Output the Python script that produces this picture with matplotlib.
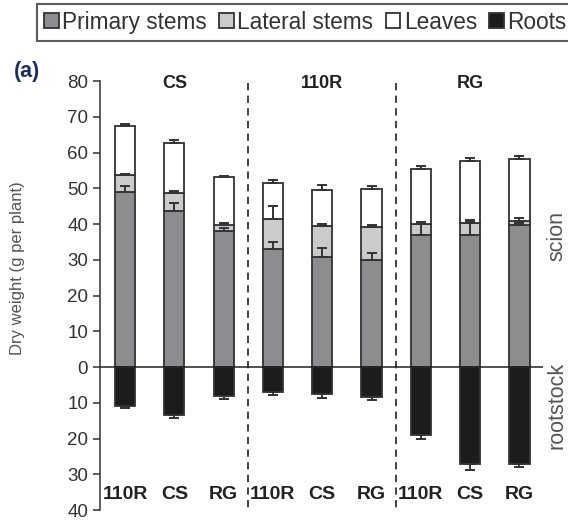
import numpy as np
import matplotlib.pyplot as plt
from matplotlib.patches import Patch

plt.rcParams['font.family'] = ['Liberation Sans', 'DejaVu Sans']

#Data (scion groups CS, 110R, RG; each on rootstocks 110R, CS, RG)
scion_groups = ["CS", "110R", "RG"]
rootstocks = ["110R", "CS", "RG", "110R", "CS", "RG", "110R", "CS", "RG"]

primary = [49.0, 43.7, 38.0, 33.0, 30.7, 29.9, 36.8, 36.8, 39.6]
primary_err = [1.7, 2.2, 0.9, 1.9, 2.6, 2.0, 3.1, 3.7, 0.6]
lateral = [4.6, 5.1, 1.8, 8.5, 8.7, 9.2, 3.3, 3.5, 1.2]
lateral_err = [0.4, 0.4, 0.4, 3.6, 0.6, 0.5, 0.5, 0.7, 0.9]
leaves = [13.9, 14.0, 13.3, 9.9, 10.2, 10.7, 15.2, 17.2, 17.3]
leaves_err = [0.6, 0.7, 0.4, 0.8, 1.2, 0.7, 0.8, 1.1, 0.8]
roots = [10.9, 13.4, 8.0, 7.1, 7.5, 8.3, 19.1, 27.2, 27.2]
roots_err = [0.6, 0.8, 0.9, 0.6, 1.2, 0.8, 1.0, 1.5, 0.7]

c_primary = "#8d8d8f"
c_lateral = "#cbcbcb"
c_leaves = "#ffffff"
c_roots = "#1c1c1c"
edge = "#333333"

x = np.arange(len(primary))
primary = np.array(primary)
lateral = np.array(lateral)
leaves = np.array(leaves)
roots = np.array(roots)
w = 0.41

fig = plt.figure(figsize=(5.68, 5.2), dpi=100)
ax = fig.add_axes([0.1761, 0.0192, 0.78, 0.825])

bar_kw = dict(width=w, edgecolor=edge, linewidth=1.3, zorder=3)
ax.bar(x, primary, color=c_primary, **bar_kw)
ax.bar(x, lateral, bottom=primary, color=c_lateral, **bar_kw)
ax.bar(x, leaves, bottom=primary + lateral, color=c_leaves, **bar_kw)
ax.bar(x, -roots, color=c_roots, **bar_kw)

#Error bars (one-sided)
err_kw = dict(fmt="none", ecolor=edge, elinewidth=1.4, capsize=3.6, capthick=1.4, zorder=4)
zeros = np.zeros(len(x))
ax.errorbar(x, primary, yerr=[zeros, primary_err], **err_kw)
ax.errorbar(x, primary + lateral, yerr=[zeros, lateral_err], **err_kw)
ax.errorbar(x, primary + lateral + leaves, yerr=[zeros, leaves_err], **err_kw)
ax.errorbar(x, -roots, yerr=[roots_err, zeros], **err_kw)

ax.axhline(0, color="#222222", linewidth=1.1, zorder=5)
for xv in [2.5, 5.5]:
    ax.plot([xv, xv], [79.5, -40], color="#333333", linewidth=1.3,
            dashes=(4, 3), zorder=2, clip_on=False)

#Group labels
for i, g in enumerate(scion_groups):
    ax.text(3 * i + 1, 79.4, g, ha="center", va="center", fontsize=13,
            fontweight="bold", color="#222222")
for i, r in enumerate(rootstocks):
    ax.text(x[i], -35.7, r, ha="center", va="center", fontsize=14,
            fontweight="bold", color="#222222")

ax.set_xlim(-0.507, 8.48)
ax.set_ylim(-40, 80)
ticks = np.arange(-40, 81, 10)
ax.set_yticks(ticks)
ax.set_yticklabels([str(abs(t)) for t in ticks], fontsize=13.5, color="#333333")
ax.set_xticks([])
ax.tick_params(axis="y", direction="out", length=5, width=1.1, color="#333333")
for s in ["top", "right", "bottom"]:
    ax.spines[s].set_visible(False)
ax.spines["left"].set_linewidth(1.1)
ax.spines["left"].set_color("#333333")

fig.text(18 / 568, 1 - 268 / 520, "Dry weight (g per plant)", rotation=90,
         ha="center", va="center", fontsize=12, color="#555555")
fig.text(557 / 568, 1 - 236 / 520, "scion", rotation=90,
         ha="center", va="center", fontsize=15.5, color="#555555")
fig.text(557 / 568, 1 - 405 / 520, "rootstock", rotation=90,
         ha="center", va="center", fontsize=15.5, color="#555555")
fig.text(27 / 568, 1 - 71 / 520, "(a)", ha="center", va="center",
         fontsize=15.5, fontweight="bold", color="#1c2f5e")

#Legend
handles = [Patch(facecolor=c_primary, edgecolor=edge, linewidth=1.3),
           Patch(facecolor=c_lateral, edgecolor=edge, linewidth=1.3),
           Patch(facecolor=c_leaves, edgecolor=edge, linewidth=1.3),
           Patch(facecolor=c_roots, edgecolor=edge, linewidth=1.3)]
leg = fig.legend(handles, ["Primary stems", "Lateral stems", "Leaves", "Roots"],
                 loc="upper left", bbox_to_anchor=(37 / 568, 1 - 4 / 520),
                 ncol=4, fontsize=16.3, frameon=True, fancybox=False,
                 handlelength=0.65, handleheight=0.65, handletextpad=0.15,
                 columnspacing=0.55, borderpad=0.3, borderaxespad=0)
leg.get_frame().set_edgecolor("#333333")
leg.get_frame().set_linewidth(1.5)
for t in leg.get_texts():
    t.set_color("#333333")

plt.savefig("out.png", dpi=100)
